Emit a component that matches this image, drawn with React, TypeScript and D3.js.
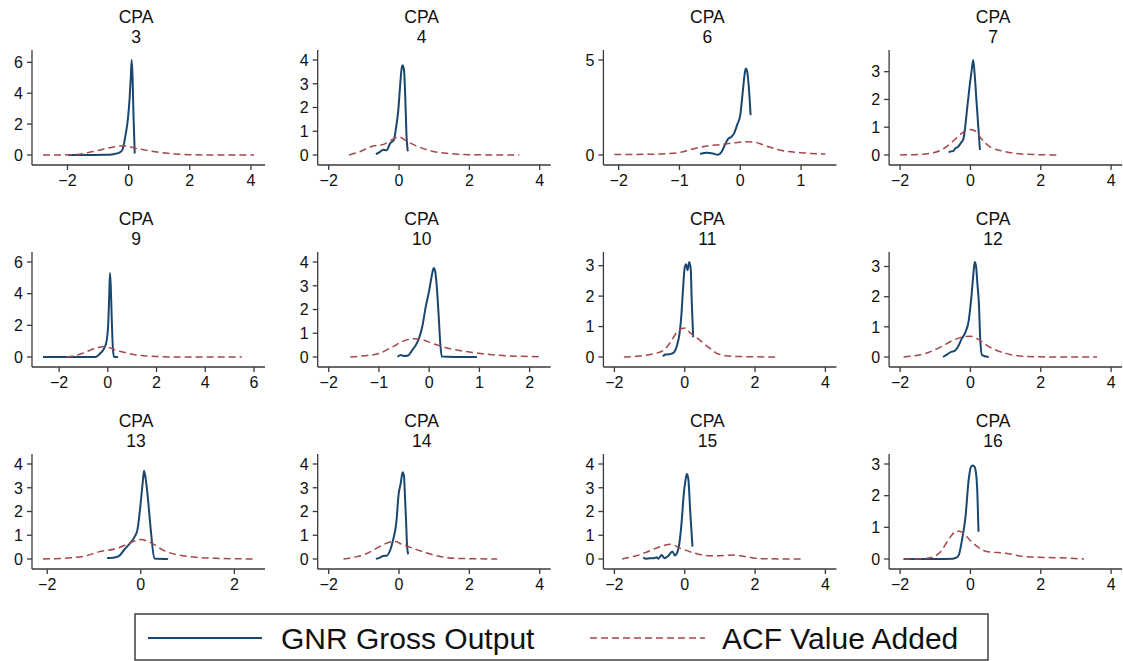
import React from 'react';
import * as d3 from 'd3';

type Pt = [number, number];

// CPA codes, one panel each (4 columns x 3 rows)
const cpaCodes = ['3', '4', '6', '7', '9', '10', '11', '12', '13', '14', '15', '16'];

// GNR Gross Output densities (solid)
const gnr3: Pt[] = [[-1.98, 0], [-1.2, 0], [-0.75, 0.01], [-0.5, 0.05], [-0.3, 0.15], [-0.2, 0.35], [-0.1, 1.3], [-0.02, 2.4], [0.03, 3.6], [0.07, 5.0], [0.1, 6.15], [0.13, 5.0], [0.16, 2.5], [0.2, 0.1]];
const gnr4: Pt[] = [[-0.66, 0.04], [-0.55, 0.12], [-0.45, 0.22], [-0.35, 0.2], [-0.25, 0.5], [-0.15, 0.62], [-0.08, 1.2], [-0.02, 1.9], [0.03, 2.9], [0.07, 3.6], [0.1, 3.78], [0.14, 3.6], [0.18, 2.3], [0.21, 0.9], [0.25, 0.15]];
const gnr6: Pt[] = [[-0.66, 0.05], [-0.55, 0.12], [-0.45, 0.08], [-0.37, 0.01], [-0.31, 0.15], [-0.25, 0.55], [-0.2, 0.85], [-0.15, 0.95], [-0.1, 1.15], [-0.05, 1.6], [0, 2.1], [0.04, 3.3], [0.07, 4.2], [0.09, 4.55], [0.11, 4.45], [0.14, 3.6], [0.17, 2.1]];
const gnr7: Pt[] = [[-0.62, 0.1], [-0.55, 0.13], [-0.48, 0.15], [-0.42, 0.25], [-0.35, 0.3], [-0.28, 0.42], [-0.2, 0.58], [-0.15, 1.0], [-0.1, 1.6], [-0.03, 2.4], [0.03, 3.0], [0.08, 3.42], [0.12, 2.9], [0.18, 1.8], [0.23, 0.9], [0.27, 0.18]];
const gnr9: Pt[] = [[-2.66, 0], [-1.5, 0], [-0.5, 0], [-0.3, 0.25], [-0.15, 0.55], [-0.05, 1.0], [0.02, 2.2], [0.06, 4.0], [0.09, 5.3], [0.12, 4.5], [0.16, 2.5], [0.2, 0.8], [0.25, 0.02], [0.42, 0]];
const gnr10: Pt[] = [[-0.63, 0.01], [-0.56, 0.08], [-0.5, 0.04], [-0.42, 0.06], [-0.35, 0.25], [-0.28, 0.45], [-0.2, 0.8], [-0.14, 1.25], [-0.07, 2.1], [0, 2.8], [0.05, 3.4], [0.09, 3.75], [0.12, 3.6], [0.15, 3.0], [0.19, 1.7], [0.22, 0.6], [0.25, 0.02], [0.5, 0], [0.95, 0]];
const gnr11: Pt[] = [[-0.62, 0.02], [-0.55, 0.08], [-0.45, 0.09], [-0.35, 0.12], [-0.28, 0.2], [-0.22, 0.38], [-0.15, 0.75], [-0.1, 1.3], [-0.05, 2.2], [0, 2.95], [0.04, 3.05], [0.08, 2.85], [0.13, 3.12], [0.17, 2.9], [0.2, 1.8], [0.24, 0.65]];
const gnr12: Pt[] = [[-0.78, 0], [-0.66, 0.09], [-0.55, 0.17], [-0.45, 0.2], [-0.35, 0.35], [-0.25, 0.6], [-0.15, 0.8], [-0.05, 1.2], [0.02, 1.9], [0.08, 2.7], [0.12, 3.15], [0.16, 3.0], [0.2, 2.4], [0.24, 1.8], [0.28, 0.56], [0.33, 0.06], [0.52, 0]];
const gnr13: Pt[] = [[-0.72, 0.04], [-0.6, 0.05], [-0.47, 0.12], [-0.35, 0.4], [-0.25, 0.62], [-0.13, 0.94], [-0.07, 1.25], [0, 2.4], [0.04, 3.2], [0.07, 3.72], [0.11, 3.3], [0.15, 2.6], [0.22, 1.1], [0.29, 0.02], [0.58, 0]];
const gnr14: Pt[] = [[-0.66, 0.01], [-0.55, 0.05], [-0.45, 0.13], [-0.35, 0.14], [-0.25, 0.38], [-0.17, 0.8], [-0.08, 1.5], [-0.01, 2.75], [0.05, 3.2], [0.1, 3.65], [0.14, 3.5], [0.17, 2.6], [0.2, 1.6], [0.23, 0.52], [0.26, 0.2]];
const gnr15: Pt[] = [[-1.18, 0.07], [-1.1, 0.01], [-1.0, 0.03], [-0.9, 0.03], [-0.8, 0.07], [-0.75, 0.01], [-0.66, 0.17], [-0.57, 0.03], [-0.47, 0.13], [-0.35, 0.32], [-0.28, 0.15], [-0.22, 0.25], [-0.14, 0.8], [-0.08, 1.7], [-0.03, 2.7], [0.02, 3.3], [0.06, 3.58], [0.1, 3.4], [0.16, 1.9], [0.22, 0.52]];
const gnr16: Pt[] = [[-1.9, 0], [-1.0, 0], [-0.5, 0.01], [-0.4, 0.04], [-0.33, 0.13], [-0.24, 0.6], [-0.14, 1.34], [-0.05, 2.5], [0.01, 2.9], [0.06, 2.95], [0.11, 2.92], [0.16, 2.7], [0.2, 2.0], [0.23, 0.86]];

// ACF Value Added densities (dashed)
const acf3: Pt[] = [[-2.8, 0], [-2, 0.01], [-1.5, 0.08], [-1, 0.3], [-0.5, 0.52], [-0.15, 0.6], [0.2, 0.45], [0.6, 0.3], [1.0, 0.17], [1.5, 0.07], [2, 0.02], [3, 0], [4.1, 0]];
const acf4: Pt[] = [[-1.42, 0], [-1.1, 0.15], [-0.8, 0.35], [-0.4, 0.47], [-0.1, 0.72], [0.0, 0.76], [0.2, 0.6], [0.5, 0.38], [1.0, 0.14], [1.5, 0.05], [2, 0.01], [3.42, 0]];
const acf6: Pt[] = [[-2.07, 0.02], [-1.5, 0.04], [-1.2, 0.07], [-1.0, 0.13], [-0.8, 0.3], [-0.55, 0.47], [-0.3, 0.56], [-0.1, 0.64], [0.1, 0.7], [0.25, 0.66], [0.4, 0.5], [0.65, 0.26], [1.0, 0.12], [1.4, 0.05]];
const acf7: Pt[] = [[-2, 0], [-1.5, 0.02], [-1.0, 0.1], [-0.7, 0.28], [-0.45, 0.55], [-0.25, 0.78], [0, 0.92], [0.15, 0.85], [0.3, 0.6], [0.55, 0.3], [1.0, 0.12], [1.5, 0.03], [2.5, 0]];
const acf9: Pt[] = [[-1.7, 0], [-1.3, 0.1], [-1.0, 0.25], [-0.6, 0.5], [-0.2, 0.65], [0, 0.62], [0.3, 0.45], [0.7, 0.28], [1.2, 0.12], [2, 0.03], [3, 0], [5.5, 0]];
const acf10: Pt[] = [[-1.57, 0], [-1.3, 0.05], [-1.0, 0.15], [-0.75, 0.4], [-0.5, 0.68], [-0.3, 0.77], [-0.15, 0.74], [0.05, 0.58], [0.4, 0.36], [0.9, 0.18], [1.4, 0.07], [2.2, 0.01]];
const acf11: Pt[] = [[-1.73, 0], [-1.3, 0.03], [-0.9, 0.1], [-0.6, 0.22], [-0.4, 0.5], [-0.2, 0.85], [0, 0.95], [0.15, 0.8], [0.4, 0.58], [0.7, 0.3], [0.95, 0.1], [1.4, 0.02], [2.57, 0]];
const acf12: Pt[] = [[-1.9, 0], [-1.5, 0.06], [-1.2, 0.15], [-0.85, 0.33], [-0.5, 0.55], [-0.2, 0.67], [0, 0.69], [0.2, 0.6], [0.5, 0.36], [1.0, 0.12], [1.6, 0.02], [2.5, 0], [3.6, 0]];
const acf13: Pt[] = [[-2.09, 0], [-1.5, 0.05], [-1.2, 0.12], [-0.9, 0.3], [-0.5, 0.45], [-0.2, 0.7], [0, 0.82], [0.2, 0.7], [0.5, 0.35], [1.0, 0.11], [1.6, 0.03], [2.42, 0]];
const acf14: Pt[] = [[-1.58, 0], [-1.2, 0.1], [-0.9, 0.24], [-0.55, 0.52], [-0.25, 0.72], [-0.1, 0.74], [0.05, 0.64], [0.4, 0.45], [1.0, 0.16], [1.6, 0.03], [2.79, 0]];
const acf15: Pt[] = [[-1.78, 0], [-1.4, 0.13], [-1.1, 0.28], [-0.7, 0.52], [-0.4, 0.62], [-0.15, 0.47], [0.2, 0.28], [0.7, 0.14], [1.0, 0.14], [1.4, 0.17], [1.8, 0.08], [2.2, 0.01], [3.31, 0]];
const acf16: Pt[] = [[-1.9, 0], [-1.4, 0.01], [-1.1, 0.05], [-0.85, 0.23], [-0.6, 0.65], [-0.4, 0.88], [-0.3, 0.88], [-0.15, 0.75], [0.1, 0.48], [0.45, 0.24], [1.0, 0.18], [1.6, 0.07], [2.5, 0.04], [3.23, 0]];

// tick labels per panel
const xTicksList = [
  [-2, 0, 2, 4], [-2, 0, 2, 4], [-2, -1, 0, 1], [-2, 0, 2, 4],
  [-2, 0, 2, 4, 6], [-2, -1, 0, 1, 2], [-2, 0, 2, 4], [-2, 0, 2, 4],
  [-2, 0, 2], [-2, 0, 2, 4], [-2, 0, 2, 4], [-2, 0, 2, 4],
];
const yTicksList = [
  [0, 2, 4, 6], [0, 1, 2, 3, 4], [0, 5], [0, 1, 2, 3],
  [0, 2, 4, 6], [0, 1, 2, 3, 4], [0, 1, 2, 3], [0, 1, 2, 3],
  [0, 1, 2, 3, 4], [0, 1, 2, 3, 4], [0, 1, 2, 3, 4], [0, 1, 2, 3],
];

const gnrList = [gnr3, gnr4, gnr6, gnr7, gnr9, gnr10, gnr11, gnr12, gnr13, gnr14, gnr15, gnr16];
const acfList = [acf3, acf4, acf6, acf7, acf9, acf10, acf11, acf12, acf13, acf14, acf15, acf16];

const legendLabels = ['GNR Gross Output', 'ACF Value Added'];

const NAVY = '#1a476f';
const MAROON = '#a3474d';
const AXIS = '#3a3a3a';
const FONT = '"Liberation Sans", Arial, Helvetica, sans-serif';

// layout
const W = 1123;
const H = 661;
const colStep = 285.7;
const rowStep = 202;
const left0 = 32;
const top0 = 50;
const boxW = 233;
const boxH = 115;
const padX = 11;
const padY = 10;

const fmt = d3.format('d');

interface PanelProps {
  code: string;
  gnr: Pt[];
  acf: Pt[];
  xTicks: number[];
  yTicks: number[];
  left: number;
  top: number;
}

const Panel = ({ code, gnr, acf, xTicks, yTicks, left, top }: PanelProps) => {
  const all = [...gnr, ...acf];
  const xs = all.map(d => d[0]).concat(xTicks);
  const ys = all.map(d => d[1]).concat(yTicks);

  const x = d3.scaleLinear()
    .domain(d3.extent(xs) as [number, number])
    .range([left + padX, left + boxW - padX]);
  const y = d3.scaleLinear()
    .domain(d3.extent(ys) as [number, number])
    .range([top + boxH - padY, top + padY]);

  const line = d3.line<Pt>()
    .x(d => x(d[0]))
    .y(d => y(d[1]))
    .curve(d3.curveMonotoneX);

  const bottom = top + boxH;
  const titleX = left + boxW / 2 - 12.5;

  return (
    <g>
      {/* title, two lines */}
      <text x={titleX} y={top - 27.5} textAnchor="middle" fontSize={17.5} fill="#111">CPA</text>
      <text x={titleX} y={top - 7.5} textAnchor="middle" fontSize={17.5} fill="#111">{code}</text>

      {/* axes */}
      <line x1={left} x2={left} y1={top} y2={bottom} stroke={AXIS} strokeWidth={1.3} />
      <line x1={left} x2={left + boxW} y1={bottom} y2={bottom} stroke={AXIS} strokeWidth={1.3} />

      {yTicks.map(t => (
        <g key={'y' + t}>
          <line x1={left - 5} x2={left} y1={y(t)} y2={y(t)} stroke={AXIS} strokeWidth={1.3} />
          <text x={left - 9} y={y(t)} dy="0.36em" textAnchor="end" fontSize={16} fill="#111">{fmt(t)}</text>
        </g>
      ))}
      {xTicks.map(t => (
        <g key={'x' + t}>
          <line x1={x(t)} x2={x(t)} y1={bottom} y2={bottom + 5} stroke={AXIS} strokeWidth={1.3} />
          <text x={x(t)} y={bottom + 21} textAnchor="middle" fontSize={16} fill="#111">{fmt(t)}</text>
        </g>
      ))}

      {/* series */}
      <path d={line(gnr) || ''} fill="none" stroke={NAVY} strokeWidth={2} />
      <path d={line(acf) || ''} fill="none" stroke={MAROON} strokeWidth={1.5} strokeDasharray="7,4" />
    </g>
  );
};

const App = () => {
  return (
    <svg
      width={W}
      height={H}
      style={{ position: 'absolute', left: 0, top: 0, background: '#fff', fontFamily: FONT }}
    >
      <rect x={0} y={0} width={W} height={H} fill="#fff" />
      {cpaCodes.map((code, i) => (
        <Panel
          key={code}
          code={code}
          gnr={gnrList[i]}
          acf={acfList[i]}
          xTicks={xTicksList[i]}
          yTicks={yTicksList[i]}
          left={left0 + (i % 4) * colStep}
          top={top0 + Math.floor(i / 4) * rowStep}
        />
      ))}

      {/* legend */}
      <g>
        <rect x={135} y={614} width={853} height={46} fill="#fff" stroke="#222" strokeWidth={1.3} />
        <line x1={148} x2={262} y1={638} y2={638} stroke={NAVY} strokeWidth={2} />
        <text x={281} y={649} fontSize={30} fill="#111">{legendLabels[0]}</text>
        <line x1={590} x2={705} y1={638} y2={638} stroke={MAROON} strokeWidth={1.5} strokeDasharray="7,4" />
        <text x={722} y={649} fontSize={30} fill="#111">{legendLabels[1]}</text>
      </g>
    </svg>
  );
};

export default App;
